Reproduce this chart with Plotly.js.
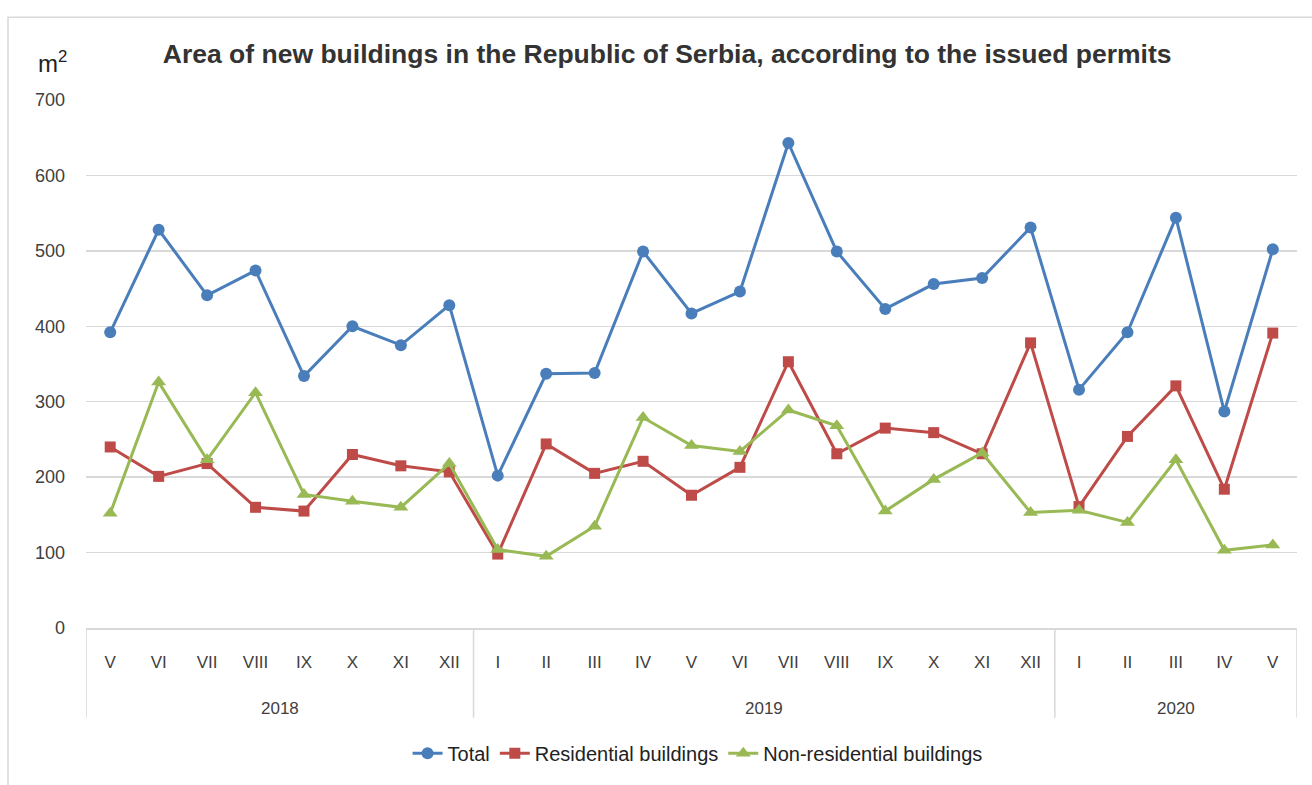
<!DOCTYPE html>
<html>
<head>
<meta charset="utf-8">
<script src="https://cdn.plot.ly/plotly-3.0.1.min.js"></script>
<style>html,body{margin:0;padding:0;background:#fff;}#chart{width:1312px;height:785px;}</style>
</head>
<body>
<div id="chart"></div>
<script>
const years = ["2018","2018","2018","2018","2018","2018","2018","2018",
  "2019","2019","2019","2019","2019","2019","2019","2019","2019","2019","2019","2019",
  "2020","2020","2020","2020","2020"];
const months = ["V","VI","VII","VIII","IX","X","XI","XII",
  "I","II","III","IV","V","VI","VII","VIII","IX","X","XI","XII",
  "I","II","III","IV","V"];
const total = [392,528,441,474,334,400,375,428,
  202,337,338,499,417,446,643,499,423,456,464,531,
  316,392,544,287,502];
const residential = [240,201,218,160,155,230,215,207,
  98,244,205,221,176,213,353,231,265,259,231,378,
  161,254,321,184,391];
const nonResidential = [152,326,223,312,177,168,160,218,
  104,95,135,279,242,234,289,268,155,197,232,153,
  156,140,223,103,110];
const yTicks = [0,100,200,300,400,500,600,700];

const font = "Liberation Sans, Arial, sans-serif";
// unique category keys, labelled with the month
const keys = months.map((m, i) => years[i] + "-" + m);

// year groups derived from the arrays
const groups = [];
years.forEach((y, i) => {
  const g = groups[groups.length - 1];
  if (g && g.year === y) g.end = i; else groups.push({year: y, start: i, end: i});
});

const traces = [
  {x: keys, y: total, name: "Total", type: "scatter", mode: "lines+markers",
   line: {color: "#4A7EBB", width: 3}, marker: {symbol: "circle", size: 12, color: "#4A7EBB"}},
  {x: keys, y: residential, name: "Residential buildings", type: "scatter", mode: "lines+markers",
   line: {color: "#BE4B48", width: 3}, marker: {symbol: "square", size: 11, color: "#BE4B48"}},
  {x: keys, y: nonResidential, name: "Non-residential buildings", type: "scatter", mode: "lines+markers",
   line: {color: "#98B954", width: 3}, marker: {symbol: "triangle-up", size: 13, color: "#98B954"}}
];

const dividerBottom = (630 - 720) / 530;
const shapes = [
  {type: "rect", xref: "paper", yref: "paper", x0: -0.0644, x1: 1.02, y0: -0.46, y1: 1.1566,
   line: {color: "#d9d9d9", width: 1.5}, fillcolor: "rgba(0,0,0,0)", layer: "below"}
];
const bounds = [groups[0].start - 0.5].concat(groups.map(g => g.end + 0.5));
bounds.forEach(b => shapes.push({type: "line", xref: "x", yref: "paper", x0: b, x1: b,
  y0: 0, y1: dividerBottom, line: {color: "#d9d9d9", width: 1.5}}));

const annotations = [
  {text: "m<sup>2</sup>", xref: "paper", yref: "paper", x: -0.028, y: 1.072, showarrow: false,
   xanchor: "center", yanchor: "middle", font: {family: font, size: 24, color: "#222"}}
];
groups.forEach(g => annotations.push({text: g.year, xref: "x", yref: "paper",
  x: (g.start + g.end) / 2, y: (630 - 711) / 530, showarrow: false, xanchor: "center", yanchor: "middle",
  font: {family: font, size: 17, color: "#404040"}}));

const layout = {
  width: 1312, height: 785,
  margin: {l: 86, r: 15, t: 100, b: 155},
  paper_bgcolor: "#fff", plot_bgcolor: "#fff",
  font: {family: font, size: 17, color: "#404040"},
  title: {text: "Area of new buildings in the Republic of Serbia, according to the issued permits",
    font: {family: font, size: 26.5, color: "#333", weight: "bold"},
    x: 0.5085, xanchor: "center", y: 0.932, yanchor: "middle"},
  xaxis: {type: "category", range: [-0.5, keys.length - 0.5], tickvals: keys, ticktext: months,
    showgrid: false, showline: true, linecolor: "#d9d9d9", linewidth: 1.5, zeroline: false,
    ticks: "", ticklabelstandoff: 18, tickangle: 0,
    tickfont: {family: font, size: 17, color: "#404040"}},
  yaxis: {range: [0, 700], tickvals: yTicks, ticktext: yTicks.map(String),
    showgrid: true, gridcolor: "#d9d9d9", gridwidth: 1.5, zeroline: false, showline: false,
    ticks: "", ticklabelstandoff: 20,
    tickfont: {family: font, size: 18, color: "#404040"}},
  showlegend: true,
  legend: {orientation: "h", x: 0.505, xanchor: "center", y: -0.237, yanchor: "middle",
    font: {family: font, size: 20, color: "#222"}, tracegroupgap: 0},
  annotations: annotations,
  shapes: shapes
};

Plotly.newPlot("chart", traces, layout, {displayModeBar: false, staticPlot: true});
</script>
</body>
</html>
